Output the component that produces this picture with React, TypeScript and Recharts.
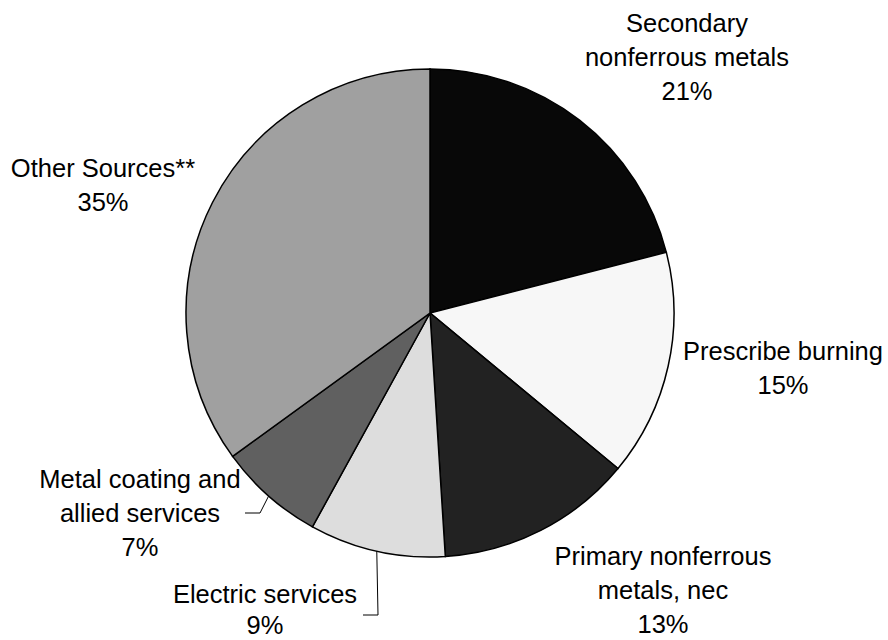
import React from 'react';
import { PieChart, Pie, Cell } from 'recharts';

const categories = [
  'Secondary nonferrous metals',
  'Prescribe burning',
  'Primary nonferrous metals, nec',
  'Electric services',
  'Metal coating and allied services',
  'Other Sources**',
];
const shares = [21, 15, 13, 9, 7, 35];
const labelLines = [
  ['Secondary', 'nonferrous metals'],
  ['Prescribe burning'],
  ['Primary nonferrous', 'metals, nec'],
  ['Electric services'],
  ['Metal coating and', 'allied services'],
  ['Other Sources**'],
];
const colors = ['#080808', '#f7f7f7', '#222222', '#dddddd', '#606060', '#a0a0a0'];

// label layout: text center offset from pie center (first baseline) and line gap
const labelOffsets = [
  { dx: 257, dy: -281, gap: 34 },
  { dx: 353, dy: 47, gap: 34 },
  { dx: 233, dy: 252, gap: 34 },
  { dx: -165, dy: 290, gap: 31 },
  { dx: -290, dy: 175, gap: 34 },
  { dx: -327, dy: -136, gap: 34 },
];
// leader lines (elbow and end offsets from pie center), null when absent
const leaders: ({ ex: number; ey: number; tx: number; ty: number } | null)[] = [
  null,
  null,
  null,
  { ex: -52, ey: 302, tx: -67, ty: 302 },
  { ex: -170, ey: 200, tx: -185, ty: 200 },
  null,
];

const data = categories.map((name, i) => ({ name, value: shares[i] }));

const FONT = '"Liberation Sans", Arial, sans-serif';
const RAD = Math.PI / 180;

const renderLabel = (props: any) => {
  const { cx, cy, midAngle, outerRadius, index } = props;
  const off = labelOffsets[index];
  const lines = [...labelLines[index], `${shares[index]}%`];
  const x = cx + off.dx;
  const y = cy + off.dy;
  const ld = leaders[index];
  let path = null;
  if (ld) {
    const sx = cx + outerRadius * Math.cos(-midAngle * RAD);
    const sy = cy + outerRadius * Math.sin(-midAngle * RAD);
    path = (
      <polyline
        points={`${sx},${sy} ${cx + ld.ex},${cy + ld.ey} ${cx + ld.tx},${cy + ld.ty}`}
        fill="none"
        stroke="#000"
        strokeWidth={1}
      />
    );
  }
  return (
    <g key={`lbl-${index}`}>
      {path}
      <text
        x={x}
        y={y}
        textAnchor="middle"
        fontFamily={FONT}
        fontSize={25.5}
        fill="#000"
      >
        {lines.map((l, i) => (
          <tspan key={i} x={x} y={y + i * off.gap}>
            {l}
          </tspan>
        ))}
      </text>
    </g>
  );
};

export default function App() {
  return (
    <div style={{ position: 'absolute', left: 0, top: 0, width: 888, height: 640, background: '#fff' }}>
      <PieChart width={888} height={640} margin={{ top: 0, right: 0, bottom: 0, left: 0 }}>
        <Pie
          data={data}
          dataKey="value"
          nameKey="name"
          cx={430}
          cy={313}
          outerRadius={244}
          innerRadius={0}
          startAngle={90}
          endAngle={-270}
          stroke="#000"
          strokeWidth={1.5}
          label={renderLabel}
          labelLine={false}
          isAnimationActive={false}
        >
          {data.map((d, i) => (
            <Cell key={d.name} fill={colors[i]} stroke="#000" strokeWidth={1.5} />
          ))}
        </Pie>
      </PieChart>
    </div>
  );
}
